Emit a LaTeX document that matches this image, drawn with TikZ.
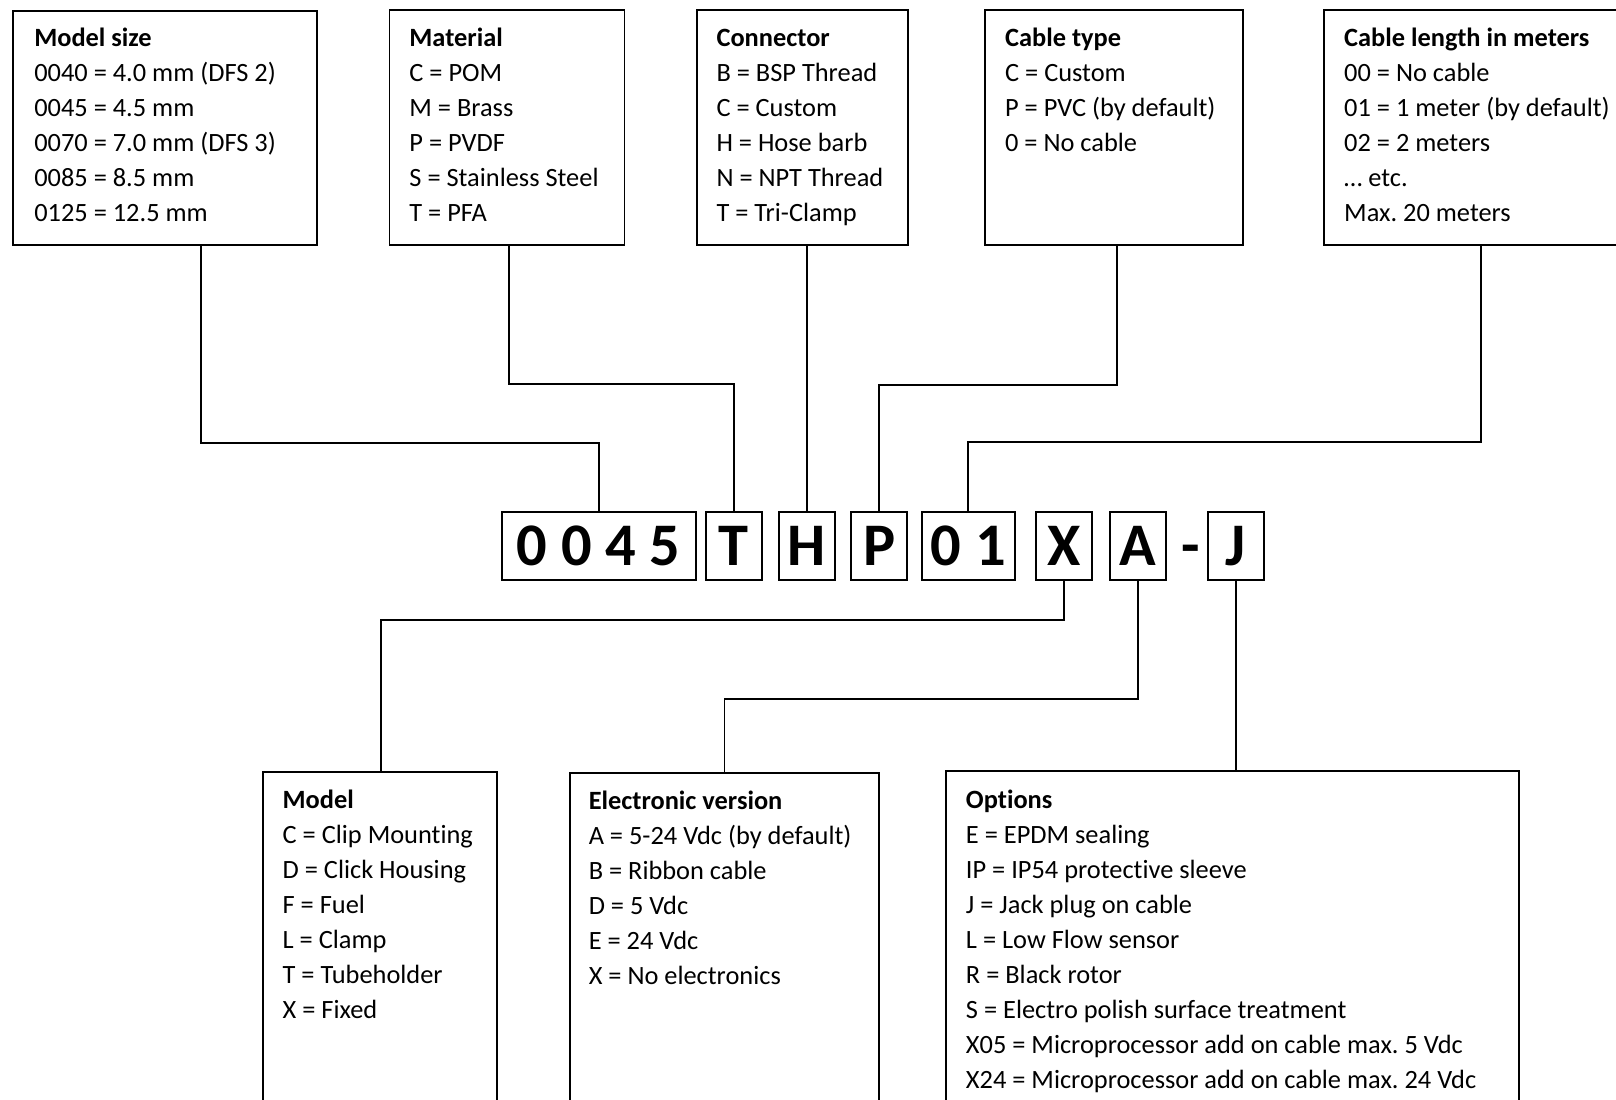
\documentclass[tikz,border=0pt]{standalone}
\usepackage{fontspec}
\setmainfont{Carlito}[Ligatures=NoCommon]
\frenchspacing
\usetikzlibrary{calc}
\newcommand\tl[1]{\begin{tabular}[t]{@{}l@{}}#1\end{tabular}}
\begin{document}
\begin{tikzpicture}[x=0.75pt,y=-0.75pt,
  box/.style={draw,line width=1.4pt,inner sep=0pt,anchor=north west},
  txt/.style={anchor=base west,inner sep=0pt,font=\fontsize{19.2}{25.5}\selectfont},
  code/.style={draw,line width=1.4pt,inner sep=0pt,minimum height=49.5pt,
    text height=28.3pt,text depth=0pt,font=\fontsize{44}{50}\selectfont\bfseries},
  link/.style={line width=1.4pt}]
\useasboundingbox (0,0) rectangle (1568,1067);
% top boxes
\node[box,minimum width=221.25pt,minimum height=170.25pt] (msize) at (12,10) {};
\node[box,minimum width=171pt,minimum height=171pt] (mat) at (377,9) {};
\node[box,minimum width=153.75pt,minimum height=171pt] (conn) at (675,9) {};
\node[box,minimum width=187.5pt,minimum height=171pt] (ctype) at (955,9) {};
\node[box,minimum width=237pt,minimum height=171pt] (clen) at (1284,9) {};
% bottom boxes
\node[box,minimum width=170.25pt,minimum height=256.5pt] (model) at (254,748) {};
\node[box,minimum width=225pt,minimum height=255.75pt] (elec) at (552,749) {};
\node[box,minimum width=417pt,minimum height=257.25pt] (opts) at (917,747) {};
% texts
\node[txt] (msizeT) at (33,45) {\tl{\textbf{Model size}\\0040 = 4.0 mm (DFS 2)\\0045 = 4.5 mm\\0070 = 7.0 mm (DFS 3)\\0085 = 8.5 mm\\0125 = 12.5 mm}};
\node[txt] (matT) at (397,45) {\tl{\textbf{Material}\\C = POM\\M = Brass\\P = PVDF\\S = Stainless Steel\\T = PFA}};
\node[txt] (connT) at (695,45) {\tl{\textbf{Connector}\\B = BSP Thread\\C = Custom\\H = Hose barb\\N = NPT Thread\\T = Tri-Clamp}};
\node[txt] (ctypeT) at (975,45) {\tl{\textbf{Cable type}\\C = Custom\\P = PVC (by default)\\0 = No cable}};
\node[txt] (clenT) at (1304,45) {\tl{\textbf{Cable length in meters}\\00 = No cable\\01 = 1 meter (by default)\\02 = 2 meters\\… etc.\\Max. 20 meters}};
\node[txt] (modelT) at (274,784) {\tl{\textbf{Model}\\C = Clip Mounting\\D = Click Housing\\F = Fuel\\L = Clamp\\T = Tubeholder\\X = Fixed}};
\node[txt] (elecT) at (571,785) {\tl{\textbf{Electronic version}\\A = 5-24 Vdc (by default)\\B = Ribbon cable\\D = 5 Vdc\\E = 24 Vdc\\X = No electronics}};
\node[txt] (optsT) at (937,784) {\tl{\textbf{Options}\\E = EPDM sealing\\IP = IP54 protective sleeve\\J = Jack plug on cable\\L = Low Flow sensor\\R = Black rotor\\S = Electro polish surface treatment\\X05 = Microprocessor add on cable max. 5 Vdc\\X24 = Microprocessor add on cable max. 24 Vdc}};
% code boxes
\node[code,minimum width=141pt] (c1) at (581,530) {0 0 4 5};
\node[code,minimum width=40.5pt] (c2) at (712,530) {T};
\node[code,minimum width=41pt] (c3) at (783,530) {H};
\node[code,minimum width=40.5pt] (c4) at (853,530) {P};
\node[code,minimum width=68pt] (c5) at (939.5,530) {0 1};
\node[code,minimum width=41pt] (c6) at (1032.5,530) {X};
\node[code,minimum width=40.5pt] (c7) at (1104,530) {A};
\node[code,draw=none] (dash) at (1155,530) {-};
\node[code,minimum width=40.5pt] (c8) at (1199,530) {J};
% connectors
\draw[link] (msize.south west) ++(183,0) -- ++(0,191) -| (c1.north);
\draw[link] (mat.south west) ++(117,0) -- ++(0,134) -| (c2.north);
\draw[link] (c3.north) -- (c3.north |- conn.south);
\draw[link] (ctype.south west) ++(129,0) -- ++(0,135) -| (c4.north);
\draw[link] (clen.south west) ++(153,0) -- ++(0,190) -| (c5.north);
\draw[link] (c6.south) -- ++(0,38) -| ($(model.north west)+(116,0)$);
\draw[link] (c7.south) -- ++(0,114) -| ($(elec.north west)+(151,0)$);
\draw[link] (c8.south) -- (c8.south |- opts.north);
\end{tikzpicture}
\end{document}
